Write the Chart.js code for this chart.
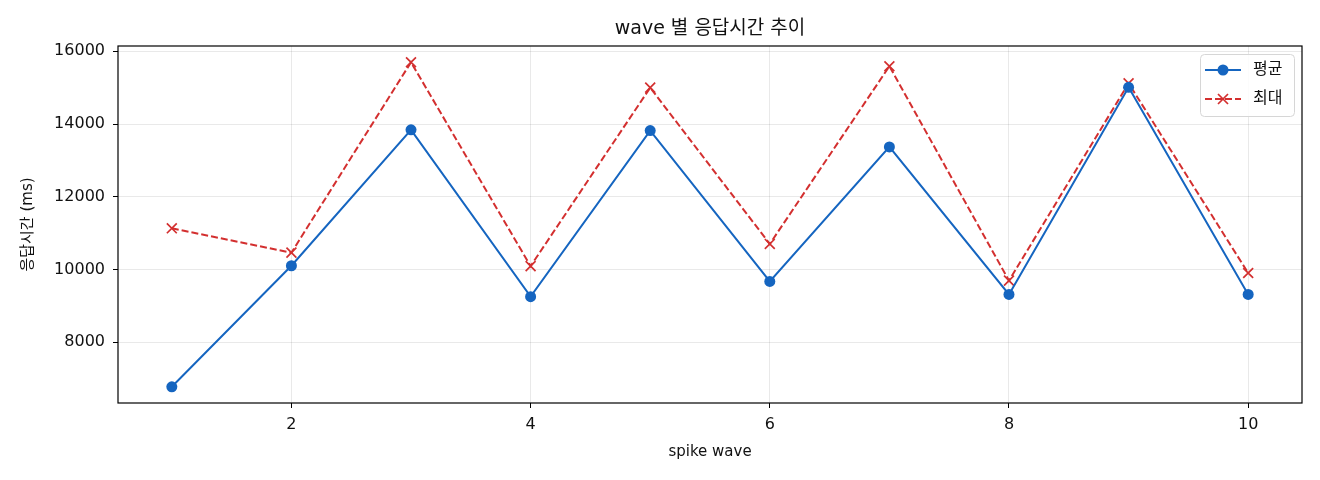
<!DOCTYPE html>
<html>
<head>
<meta charset="utf-8">
<script src="https://cdn.jsdelivr.net/npm/chart.js@4.4.1/dist/chart.umd.min.js"></script>
<style>
    body { margin: 0; background: #ffffff; }
    #wrap { width: 1320px; height: 480px; }
</style>
</head>
<body>
<div id="wrap"><canvas id="waveChart"></canvas></div>
<script>
var waves = [1, 2, 3, 4, 5, 6, 7, 8, 9, 10];
var avgMs = [6770, 10100, 13840, 9250, 13820, 9670, 13370, 9310, 15010, 9310];
var maxMs = [11130, 10460, 15700, 10090, 15000, 10700, 15590, 9690, 15120, 9900];
var xTicks = [2, 4, 6, 8, 10];
var yTicks = [8000, 10000, 12000, 14000, 16000];

var seriesNames = ["평균", "최대"];
var blue = "#1565C0";
var red = "#D32F2F";
var fontFamily = "'DejaVu Sans', 'Noto Sans CJK KR', sans-serif";

// matplotlib style 5% margins around the data
var allY = avgMs.concat(maxMs);
var yLo = Math.min.apply(null, allY), yHi = Math.max.apply(null, allY);
var yPad = (yHi - yLo) * 0.05;
var xPad = (waves[waves.length - 1] - waves[0]) * 0.05;

function toPoints(vals) {
    return waves.map(function (w, i) { return { x: w, y: vals[i] }; });
}

/*frame, title and legend drawn like the original figure*/
var figurePlugin = {
    id: "figurePlugin",
    afterDraw: function (chart) {
        var ctx = chart.ctx;
        var a = chart.chartArea;
        ctx.save();
        ctx.strokeStyle = "#000000";
        ctx.lineWidth = 1.2;
        ctx.strokeRect(a.left, a.top, a.right - a.left, a.bottom - a.top);

        ctx.fillStyle = "#111111";
        ctx.font = "19px " + fontFamily;
        ctx.textAlign = "center";
        ctx.textBaseline = "middle";
        ctx.fillText("wave 별 응답시간 추이", (a.left + a.right) / 2, 29);

        // legend box
        var bx = 1200.5, by = 54.5, bw = 94, bh = 62;
        ctx.beginPath();
        ctx.roundRect(bx, by, bw, bh, 4);
        ctx.fillStyle = "rgba(255,255,255,0.85)";
        ctx.fill();
        ctx.strokeStyle = "#d6d6d6";
        ctx.lineWidth = 1;
        ctx.stroke();

        var rows = [
            { y: 70, color: blue, dash: [], marker: "circle" },
            { y: 99, color: red, dash: [7, 3], marker: "cross" }
        ];
        rows.forEach(function (r, i) {
            ctx.strokeStyle = r.color;
            ctx.lineWidth = 2;
            ctx.setLineDash(r.dash);
            ctx.beginPath();
            ctx.moveTo(1205, r.y);
            ctx.lineTo(1241, r.y);
            ctx.stroke();
            ctx.setLineDash([]);
            if (r.marker === "circle") {
                ctx.fillStyle = r.color;
                ctx.beginPath();
                ctx.arc(1223, r.y, 5.5, 0, Math.PI * 2);
                ctx.fill();
            } else {
                ctx.lineWidth = 1.7;
                ctx.beginPath();
                ctx.moveTo(1218, r.y - 5); ctx.lineTo(1228, r.y + 5);
                ctx.moveTo(1228, r.y - 5); ctx.lineTo(1218, r.y + 5);
                ctx.stroke();
            }
            ctx.fillStyle = "#111111";
            ctx.font = "16px " + fontFamily;
            ctx.textAlign = "left";
            ctx.fillText(seriesNames[i], 1253, r.y);
        });
        ctx.restore();
    }
};

var chart = new Chart(document.getElementById("waveChart"), {
    type: "line",
    data: {
        datasets: [
            {
                label: seriesNames[0],
                data: toPoints(avgMs),
                borderColor: blue,
                backgroundColor: blue,
                borderWidth: 2,
                pointStyle: "circle",
                pointRadius: 5.5,
                pointBorderWidth: 0,
                pointBackgroundColor: blue,
                tension: 0
            },
            {
                label: seriesNames[1],
                data: toPoints(maxMs),
                borderColor: red,
                backgroundColor: red,
                borderWidth: 2,
                borderDash: [7, 3],
                pointStyle: "crossRot",
                pointRadius: 7,
                pointBorderWidth: 1.7,
                pointBorderColor: red,
                tension: 0
            }
        ]
    },
    options: {
        responsive: true,
        maintainAspectRatio: false,
        animation: false,
        layout: { padding: { left: 0, right: 18, top: 46, bottom: 0 } },
        plugins: {
            legend: { display: false },
            title: { display: false },
            tooltip: { enabled: false }
        },
        scales: {
            x: {
                type: "linear",
                min: waves[0] - xPad,
                max: waves[waves.length - 1] + xPad,
                afterBuildTicks: function (s) { s.ticks = xTicks.map(function (v) { return { value: v }; }); },
                afterFit: function (s) { s.height = 77; },
                grid: { color: "rgba(0,0,0,0.085)", tickColor: "#000000", tickLength: 5, drawTicks: true },
                border: { display: false },
                ticks: { color: "#111111", font: { family: fontFamily, size: 16 }, padding: 7, maxRotation: 0 },
                title: { display: true, text: "spike wave", color: "#111111", font: { family: fontFamily, size: 15 }, padding: { top: 0, bottom: 19 } }
            },
            y: {
                min: yLo - yPad,
                max: yHi + yPad,
                afterBuildTicks: function (s) { s.ticks = yTicks.map(function (v) { return { value: v }; }); },
                afterFit: function (s) { s.width = 118; },
                grid: { color: "rgba(0,0,0,0.085)", tickColor: "#000000", tickLength: 5, drawTicks: true },
                border: { display: false },
                ticks: { color: "#111111", font: { family: fontFamily, size: 16 }, padding: 8, callback: function (v) { return String(v); } },
                title: { display: true, text: "응답시간 (ms)", color: "#111111", font: { family: fontFamily, size: 15 }, padding: { top: 19, bottom: 0 } }
            }
        }
    },
    plugins: [figurePlugin]
});
</script>
</body>
</html>
